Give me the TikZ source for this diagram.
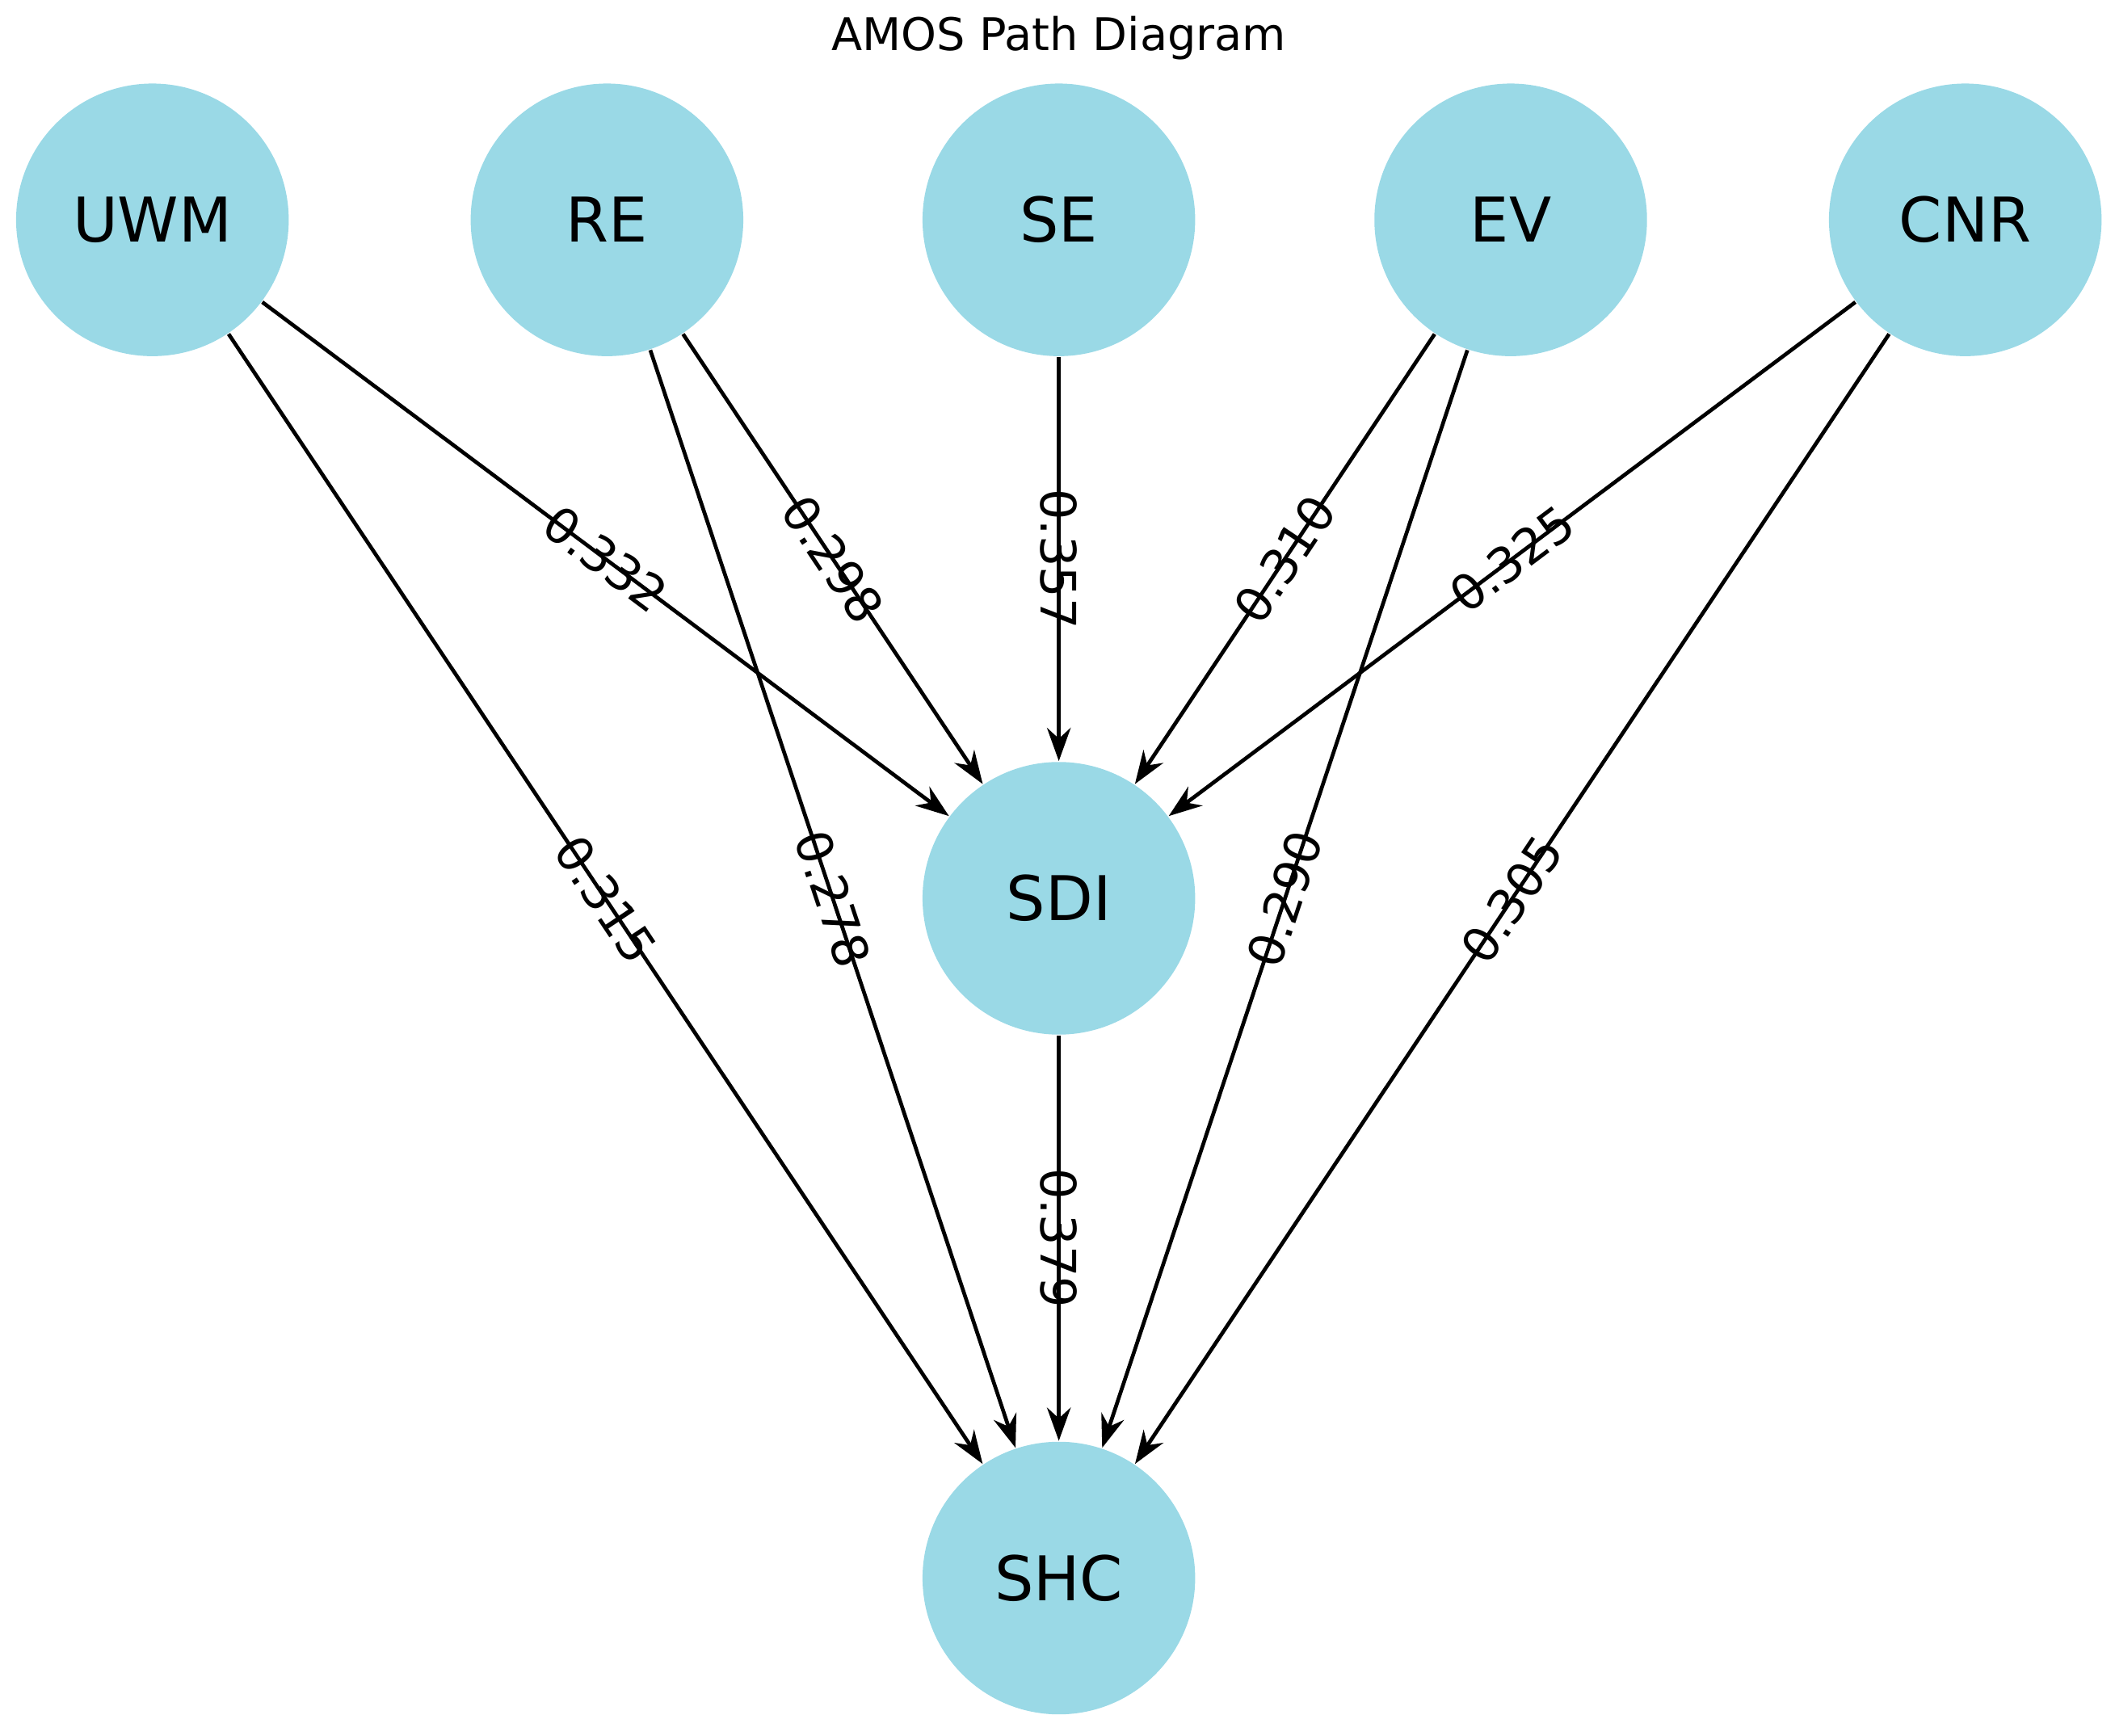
\documentclass[tikz,border=0pt]{standalone}
\usepackage{fontspec}
\setmainfont{DejaVu Sans}
\usetikzlibrary{arrows.meta}
\definecolor{nodec}{HTML}{9AD9E6}
\begin{document}
\begin{tikzpicture}[x=0.01cm,y=-0.01cm,
  var/.style={circle,fill=nodec,minimum size=2.02cm,inner sep=0pt,font=\fontsize{13}{15}\selectfont},
  path/.style={-{Stealth[length=7pt,width=5pt]},line width=0.8pt},
  lab/.style={sloped,midway,font=\fontsize{10.3}{12}\selectfont,inner sep=0pt}]
\useasboundingbox (0,0) rectangle (1568,1287);
\node[font=\fontsize{9.5}{11}\selectfont] (title) at (785,28) {AMOS Path Diagram};
\node[var] (UWM) at (113,163) {UWM};
\node[var] (RE) at (450,163) {RE};
\node[var] (SE) at (785,163) {SE};
\node[var] (EV) at (1120,163) {EV};
\node[var] (CNR) at (1457,163) {CNR};
\node[var] (SDI) at (785,666) {SDI};
\node[var] (SHC) at (785,1170) {SHC};
\draw[path] (UWM) -- node[lab]{0.332} (SDI);
\draw[path] (RE) -- node[lab]{0.298} (SDI);
\draw[path] (SE) -- node[lab]{0.357} (SDI);
\draw[path] (EV) -- node[lab]{0.310} (SDI);
\draw[path] (CNR) -- node[lab]{0.325} (SDI);
\draw[path] (UWM) -- node[lab]{0.315} (SHC);
\draw[path] (RE) -- node[lab]{0.278} (SHC);
\draw[path] (EV) -- node[lab]{0.290} (SHC);
\draw[path] (CNR) -- node[lab]{0.305} (SHC);
\draw[path] (SDI) -- node[lab]{0.379} (SHC);
\end{tikzpicture}
\end{document}
